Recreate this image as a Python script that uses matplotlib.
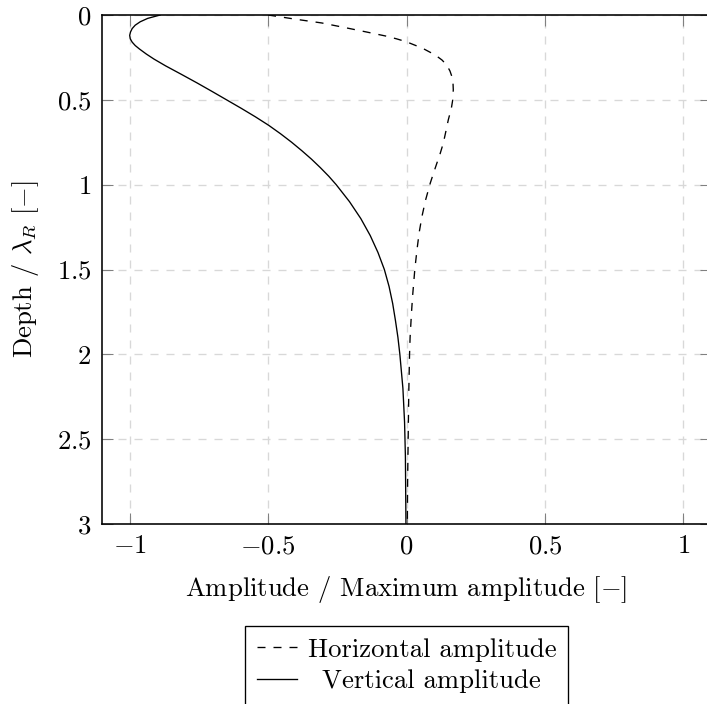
import matplotlib
matplotlib.use("Agg")
import matplotlib.pyplot as plt
from matplotlib.ticker import FuncFormatter, FixedLocator

# values (normalised amplitude vs depth / lambda_R)
vert_depth = [0.0, 0.02, 0.04, 0.06, 0.08, 0.10, 0.12, 0.14, 0.16, 0.18,
              0.20, 0.23, 0.26, 0.30, 0.35, 0.40, 0.45, 0.50, 0.55, 0.60,
              0.65, 0.70, 0.75, 0.80, 0.85, 0.90, 0.95, 1.00, 1.10, 1.20,
              1.30, 1.40, 1.50, 1.60, 1.70, 1.80, 1.90, 2.00, 2.20, 2.40,
              2.60, 2.80, 3.00]
vert_amp = [-0.890, -0.935, -0.962, -0.980, -0.991, -0.997, -1.000, -0.998, -0.991, -0.980,
            -0.965, -0.940, -0.912, -0.870, -0.813, -0.757, -0.703, -0.650, -0.597, -0.546,
            -0.498, -0.455, -0.415, -0.378, -0.343, -0.311, -0.281, -0.254, -0.206, -0.165,
            -0.131, -0.103, -0.080, -0.063, -0.050, -0.040, -0.031, -0.024, -0.013, -0.007,
            -0.004, -0.003, -0.002]

horiz_depth = [0.0, 0.025, 0.047, 0.075, 0.10, 0.124, 0.14, 0.158, 0.196, 0.235,
               0.265, 0.294, 0.33, 0.363, 0.40, 0.441, 0.50, 0.55, 0.618, 0.68,
               0.755, 0.82, 0.872, 0.93, 0.99, 1.09, 1.186, 1.28, 1.382, 1.50,
               1.657, 1.755, 1.90, 2.00, 2.245, 2.50, 2.75, 3.00]
horiz_amp = [-0.500, -0.400, -0.306, -0.220, -0.145, -0.075, -0.037, 0.000, 0.058, 0.103,
             0.128, 0.145, 0.157, 0.164, 0.168, 0.169, 0.167, 0.162, 0.151, 0.143,
             0.133, 0.121, 0.110, 0.098, 0.086, 0.069, 0.056, 0.046, 0.038, 0.030,
             0.022, 0.018, 0.013, 0.011, 0.008, 0.006, 0.004, 0.003]

x_ticks = [-1, -0.5, 0, 0.5, 1]
y_ticks = [0, 0.5, 1, 1.5, 2, 2.5, 3]

plt.rcParams["font.family"] = ["cmr10", "DejaVu Serif"]
plt.rcParams["mathtext.fontset"] = "cm"
plt.rcParams["axes.formatter.use_mathtext"] = True
plt.rcParams["lines.scale_dashes"] = False

DPI = 192
fig = plt.figure(figsize=(707 / DPI, 704 / DPI), dpi=DPI)
ax = fig.add_axes([102 / 707, 180 / 704, 609 / 707, 509 / 704])

ax.plot(horiz_amp, horiz_depth, color="black", lw=0.5, linestyle=(0, (3, 3)),
        label="Horizontal amplitude")
ax.plot(vert_amp, vert_depth, color="black", lw=0.5, label="Vertical amplitude")

ax.set_xlim(-1.1, 1.1)
ax.set_ylim(3, 0)
ax.xaxis.set_major_locator(FixedLocator(x_ticks))
ax.yaxis.set_major_locator(FixedLocator(y_ticks))
fmt = FuncFormatter(lambda v, pos: f"${v:g}$")
ax.xaxis.set_major_formatter(fmt)
ax.yaxis.set_major_formatter(fmt)

ax.grid(True, color="#d8d8d8", lw=0.5, linestyle=(0, (3, 3)))
ax.set_axisbelow(True)
ax.tick_params(direction="in", length=4.3, width=0.4, color="#808080",
               top=True, right=True, labelsize=10, pad=4)
for s in ax.spines.values():
    s.set_linewidth(0.6)

ax.set_xlabel(r"Amplitude / Maximum amplitude [$-$]", fontsize=10, labelpad=6)
ax.set_ylabel(r"Depth / $\lambda_R$ [$-$]", fontsize=10, labelpad=6)

leg = ax.legend(loc="upper center", bbox_to_anchor=(0.5, -0.2), fontsize=10,
                frameon=True, fancybox=False, edgecolor="black", framealpha=1,
                handlelength=1.5, handletextpad=0.4, borderpad=0.45,
                labelspacing=0.3, borderaxespad=0)
leg.get_frame().set_linewidth(0.5)

# centre the legend entries like pgfplots does
fig.canvas.draw()
renderer = fig.canvas.get_renderer()
widths = [t.get_window_extent(renderer).width for t in leg.get_texts()]
for t, w in zip(leg.get_texts(), widths):
    t.set_x((max(widths) - w) / 2)

fig.savefig("out.png", dpi=DPI)
